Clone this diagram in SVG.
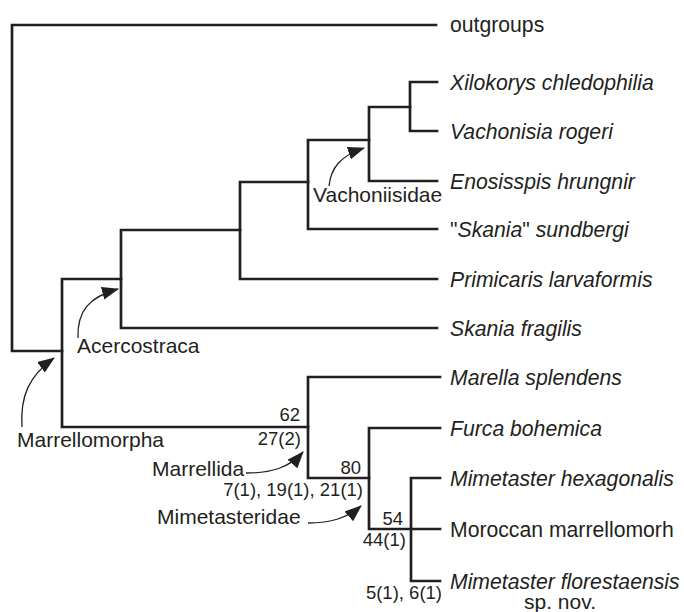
<svg xmlns="http://www.w3.org/2000/svg" width="684" height="612" viewBox="0 0 684 612">
<style>
  .br{fill:none;stroke:#231f20;stroke-width:2.7;stroke-linecap:square;stroke-linejoin:miter}
  .ar{fill:none;stroke:#231f20;stroke-width:1.3}
  text{font-family:"Liberation Sans",Arial,sans-serif;fill:#231f20}
  .tip{font-size:21.2px;font-style:italic}
  .up{font-style:normal}
  .lab{font-size:21px}
  .num{font-size:18.5px;text-anchor:end}
</style>
<defs>
  <marker id="ah" markerUnits="userSpaceOnUse" markerWidth="20" markerHeight="14" refX="16" refY="6.5" orient="auto">
    <path d="M0,0 L17,6.5 L0,13 Z" fill="#231f20"/>
  </marker>
</defs>
<rect width="684" height="612" fill="#fff"/>
<g id="connectors">
  <path class="br" d="M436,25 H12 V351 H62"/>
  <path class="br" d="M121,279 H62 V427 H308"/>
  <path class="br" d="M240,230 H121 V328 H437"/>
  <path class="br" d="M308,182 H240 V279 H437"/>
  <path class="br" d="M369,140 H308 V229 H437"/>
  <path class="br" d="M410,107 H369 V181 H437"/>
  <path class="br" d="M437,82 H410 V131 H437"/>
  <path class="br" d="M440,377 H308 V478 H369"/>
  <path class="br" d="M440,428 H369 V529 H440"/>
  <path class="br" d="M440,478 H411 V581 H440"/>
</g>
<g id="annotations">
  <path class="ar" d="M329,186 C331,168 340,156 364,148" marker-end="url(#ah)"/>
  <path class="ar" d="M78,338 C77,311 89,297 118,289" marker-end="url(#ah)"/>
  <path class="ar" d="M22,427 C20,396 29,376 54,358" marker-end="url(#ah)"/>
  <path class="ar" d="M246,473 C271,473 289,468 303,452" marker-end="url(#ah)"/>
  <path class="ar" d="M308,523 C331,523 347,518 361,506" marker-end="url(#ah)"/>
</g>
<g id="outgroups"><text class="tip up" x="450" y="32">outgroups</text></g>
<g id="xilokorys"><text class="tip" x="450" y="90">Xilokorys chledophilia</text></g>
<g id="vachonisia"><text class="tip" x="450" y="139">Vachonisia rogeri</text></g>
<g id="enosisspis"><text class="tip" x="450" y="189">Enosisspis hrungnir</text></g>
<g id="skania-sundbergi"><text class="tip" x="450" y="237"><tspan class="up">"</tspan>Skania<tspan class="up">"</tspan> sundbergi</text></g>
<g id="primicaris"><text class="tip" x="450" y="287">Primicaris larvaformis</text></g>
<g id="skania-fragilis"><text class="tip" x="450" y="336">Skania fragilis</text></g>
<g id="marella"><text class="tip" x="450" y="385">Marella splendens</text></g>
<g id="furca"><text class="tip" x="450" y="436">Furca bohemica</text></g>
<g id="mimetaster-hexagonalis"><text class="tip" x="450" y="486">Mimetaster hexagonalis</text></g>
<g id="moroccan"><text class="tip up" x="450" y="537">Moroccan marrellomorh</text></g>
<g id="mimetaster-florestaensis"><text class="tip" x="450" y="589">Mimetaster florestaensis</text><text class="lab" x="560" y="609" text-anchor="middle">sp. nov.</text></g>
<g id="clade-labels">
  <text class="lab" x="313" y="202">Vachoniisidae</text>
  <text class="lab" x="77" y="353">Acercostraca</text>
  <text class="lab" x="17" y="447">Marrellomorpha</text>
  <text class="lab" x="152" y="476">Marrellida</text>
  <text class="lab" x="157" y="524">Mimetasteridae</text>
</g>
<g id="node-values">
  <text class="num" x="300" y="421">62</text>
  <text class="num" x="301" y="445">27(2)</text>
  <text class="num" x="361" y="474">80</text>
  <text class="num" x="363" y="496">7(1), 19(1), 21(1)</text>
  <text class="num" x="403" y="525">54</text>
  <text class="num" x="406" y="546">44(1)</text>
  <text class="num" x="442" y="599">5(1), 6(1)</text>
</g>
</svg>
